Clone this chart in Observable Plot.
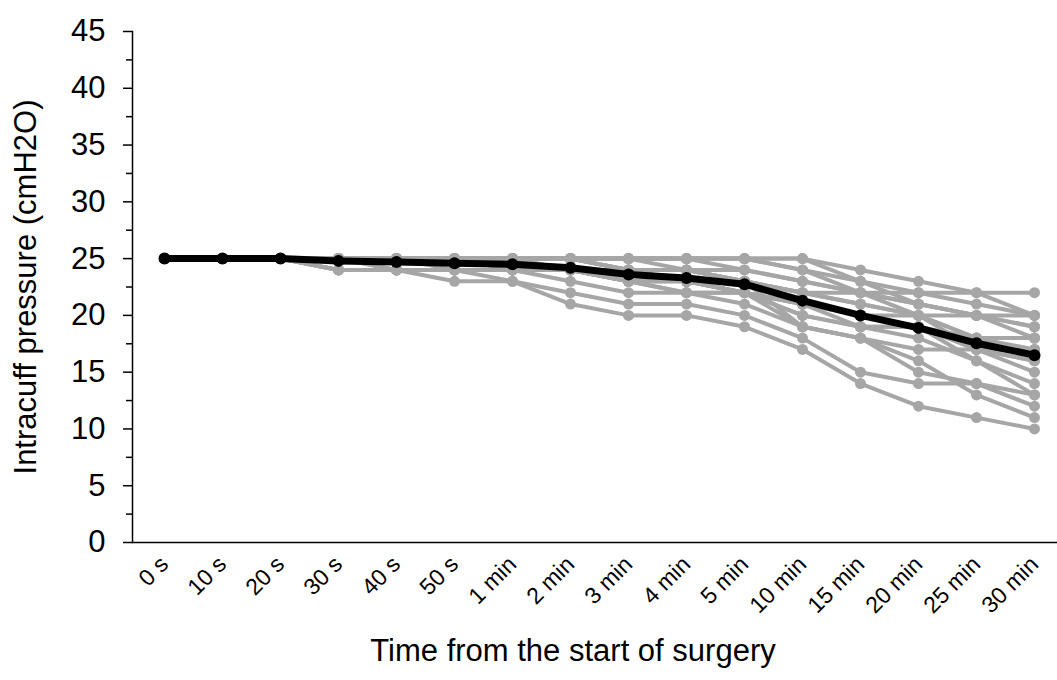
<!DOCTYPE html>
<html><head><meta charset="utf-8">
<script src="https://cdn.jsdelivr.net/npm/d3@7"></script>
<script src="https://cdn.jsdelivr.net/npm/@observablehq/plot@0.6"></script>
<style>body{margin:0;background:#fff} svg{display:block}</style>
</head><body><div id="chart"></div>
<script>
const times = ["0 s","10 s","20 s","30 s","40 s","50 s","1 min","2 min","3 min","4 min","5 min","10 min","15 min","20 min","25 min","30 min"];
const p01 = [25,25,25,25,25,25,25,25,25,25,25,25,24,23,22,22];
const p02 = [25,25,25,25,25,25,25,25,25,25,25,24,23,22,22,20];
const p03 = [25,25,25,25,25,25,25,25,25,25,24,23,22,22,21,20];
const p04 = [25,25,25,25,25,25,25,25,25,24,24,23,22,21,20,20];
const p05 = [25,25,25,25,25,25,25,25,24,24,23,22,22,21,20,19];
const p06 = [25,25,25,25,25,24,24,24,24,23,23,22,21,20,20,19];
const p07 = [25,25,25,25,25,25,25,25,25,25,25,25,23,21,20,18];
const p08 = [25,25,25,25,24,24,24,24,23,23,22,21,20,19,18,18];
const p09 = [25,25,25,25,25,25,25,25,24,24,23,22,21,20,18,18];
const p10 = [25,25,25,25,25,25,24,24,23,22,22,21,20,20,18,17];
const p11 = [25,25,25,24,24,24,24,24,23,23,22,20,19,19,17,17];
const p12 = [25,25,25,25,25,25,25,25,25,25,25,24,22,20,17,16];
const p13 = [25,25,25,25,24,24,24,24,24,23,22,21,20,19,17,16];
const p14 = [25,25,25,24,24,24,24,23,22,22,21,19,18,17,17,15];
const p15 = [25,25,25,25,25,25,25,24,23,22,22,20,19,18,16,14];
const p16 = [25,25,25,25,25,25,25,25,24,24,23,21,19,19,16,13];
const p17 = [25,25,25,24,24,24,23,22,21,21,20,18,15,14,14,13];
const p18 = [25,25,25,25,25,25,25,24,23,23,22,19,18,15,14,12];
const p19 = [25,25,25,25,25,25,25,25,24,23,23,19,18,16,13,11];
const p20 = [25,25,25,24,24,23,23,21,20,20,19,17,14,12,11,10];
const meanPressure = [25,25,25,24.8,24.7,24.6,24.5,24.2,23.6,23.3,22.75,21.3,20.0,18.9,17.55,16.5];
const yTicks = [0,5,10,15,20,25,30,35,40,45];
const yMinorTicks = [2.5,7.5,12.5,17.5,22.5,27.5,32.5,37.5,42.5];
const yLabel = "Intracuff pressure (cmH2O)";
const xLabel = "Time from the start of surgery";

const patients = [p01,p02,p03,p04,p05,p06,p07,p08,p09,p10,p11,p12,p13,p14,p15,p16,p17,p18,p19,p20];
const rows = patients.flatMap((vals, i) => vals.map((v, j) => ({id: i, time: times[j], value: v})));
const meanRows = meanPressure.map((v, j) => ({time: times[j], value: v}));

const chart = Plot.plot({
  width: 1057, height: 680,
  marginLeft: 132, marginRight: 0, marginTop: 31, marginBottom: 138,
  style: {fontFamily: "'Liberation Sans', Arial, sans-serif", color: "#000", background: "#fff", overflow: "visible"},
  x: {type: "point", domain: times, range: [160, 1037], padding: 0},
  y: {domain: [0, 45]},
  marks: [
    Plot.axisY(yMinorTicks, {tickSize: 6, tickFormat: () => "", stroke: "#000", strokeWidth: 1.5, label: null}),
    Plot.axisY(yTicks, {tickSize: 9, tickPadding: 18, fontSize: 31, stroke: "#000", strokeWidth: 1.5, label: null}),
    Plot.axisX({tickSize: 0, tickRotate: -45, tickPadding: 18, fontSize: 23, label: null}),
    Plot.frame({anchor: "left", stroke: "#000", strokeWidth: 1.5}),
    Plot.ruleY([0], {stroke: "#000", strokeWidth: 1.5}),
    Plot.line(rows, {x: "time", y: "value", z: "id", stroke: "#a6a6a6", strokeWidth: 4}),
    Plot.dot(rows, {x: "time", y: "value", fill: "#a6a6a6", r: 5.5}),
    Plot.line(meanRows, {x: "time", y: "value", stroke: "#000", strokeWidth: 7}),
    Plot.dot(meanRows, {x: "time", y: "value", fill: "#000", r: 6}),
    Plot.text([xLabel], {frameAnchor: "bottom", dx: -22, dy: 118, fontSize: 31, fill: "#000"}),
    Plot.text([yLabel], {frameAnchor: "left", dx: -106, rotate: -90, textAnchor: "middle", fontSize: 31, fill: "#000"})
  ]
});
document.getElementById("chart").append(chart);
</script>
</body></html>
